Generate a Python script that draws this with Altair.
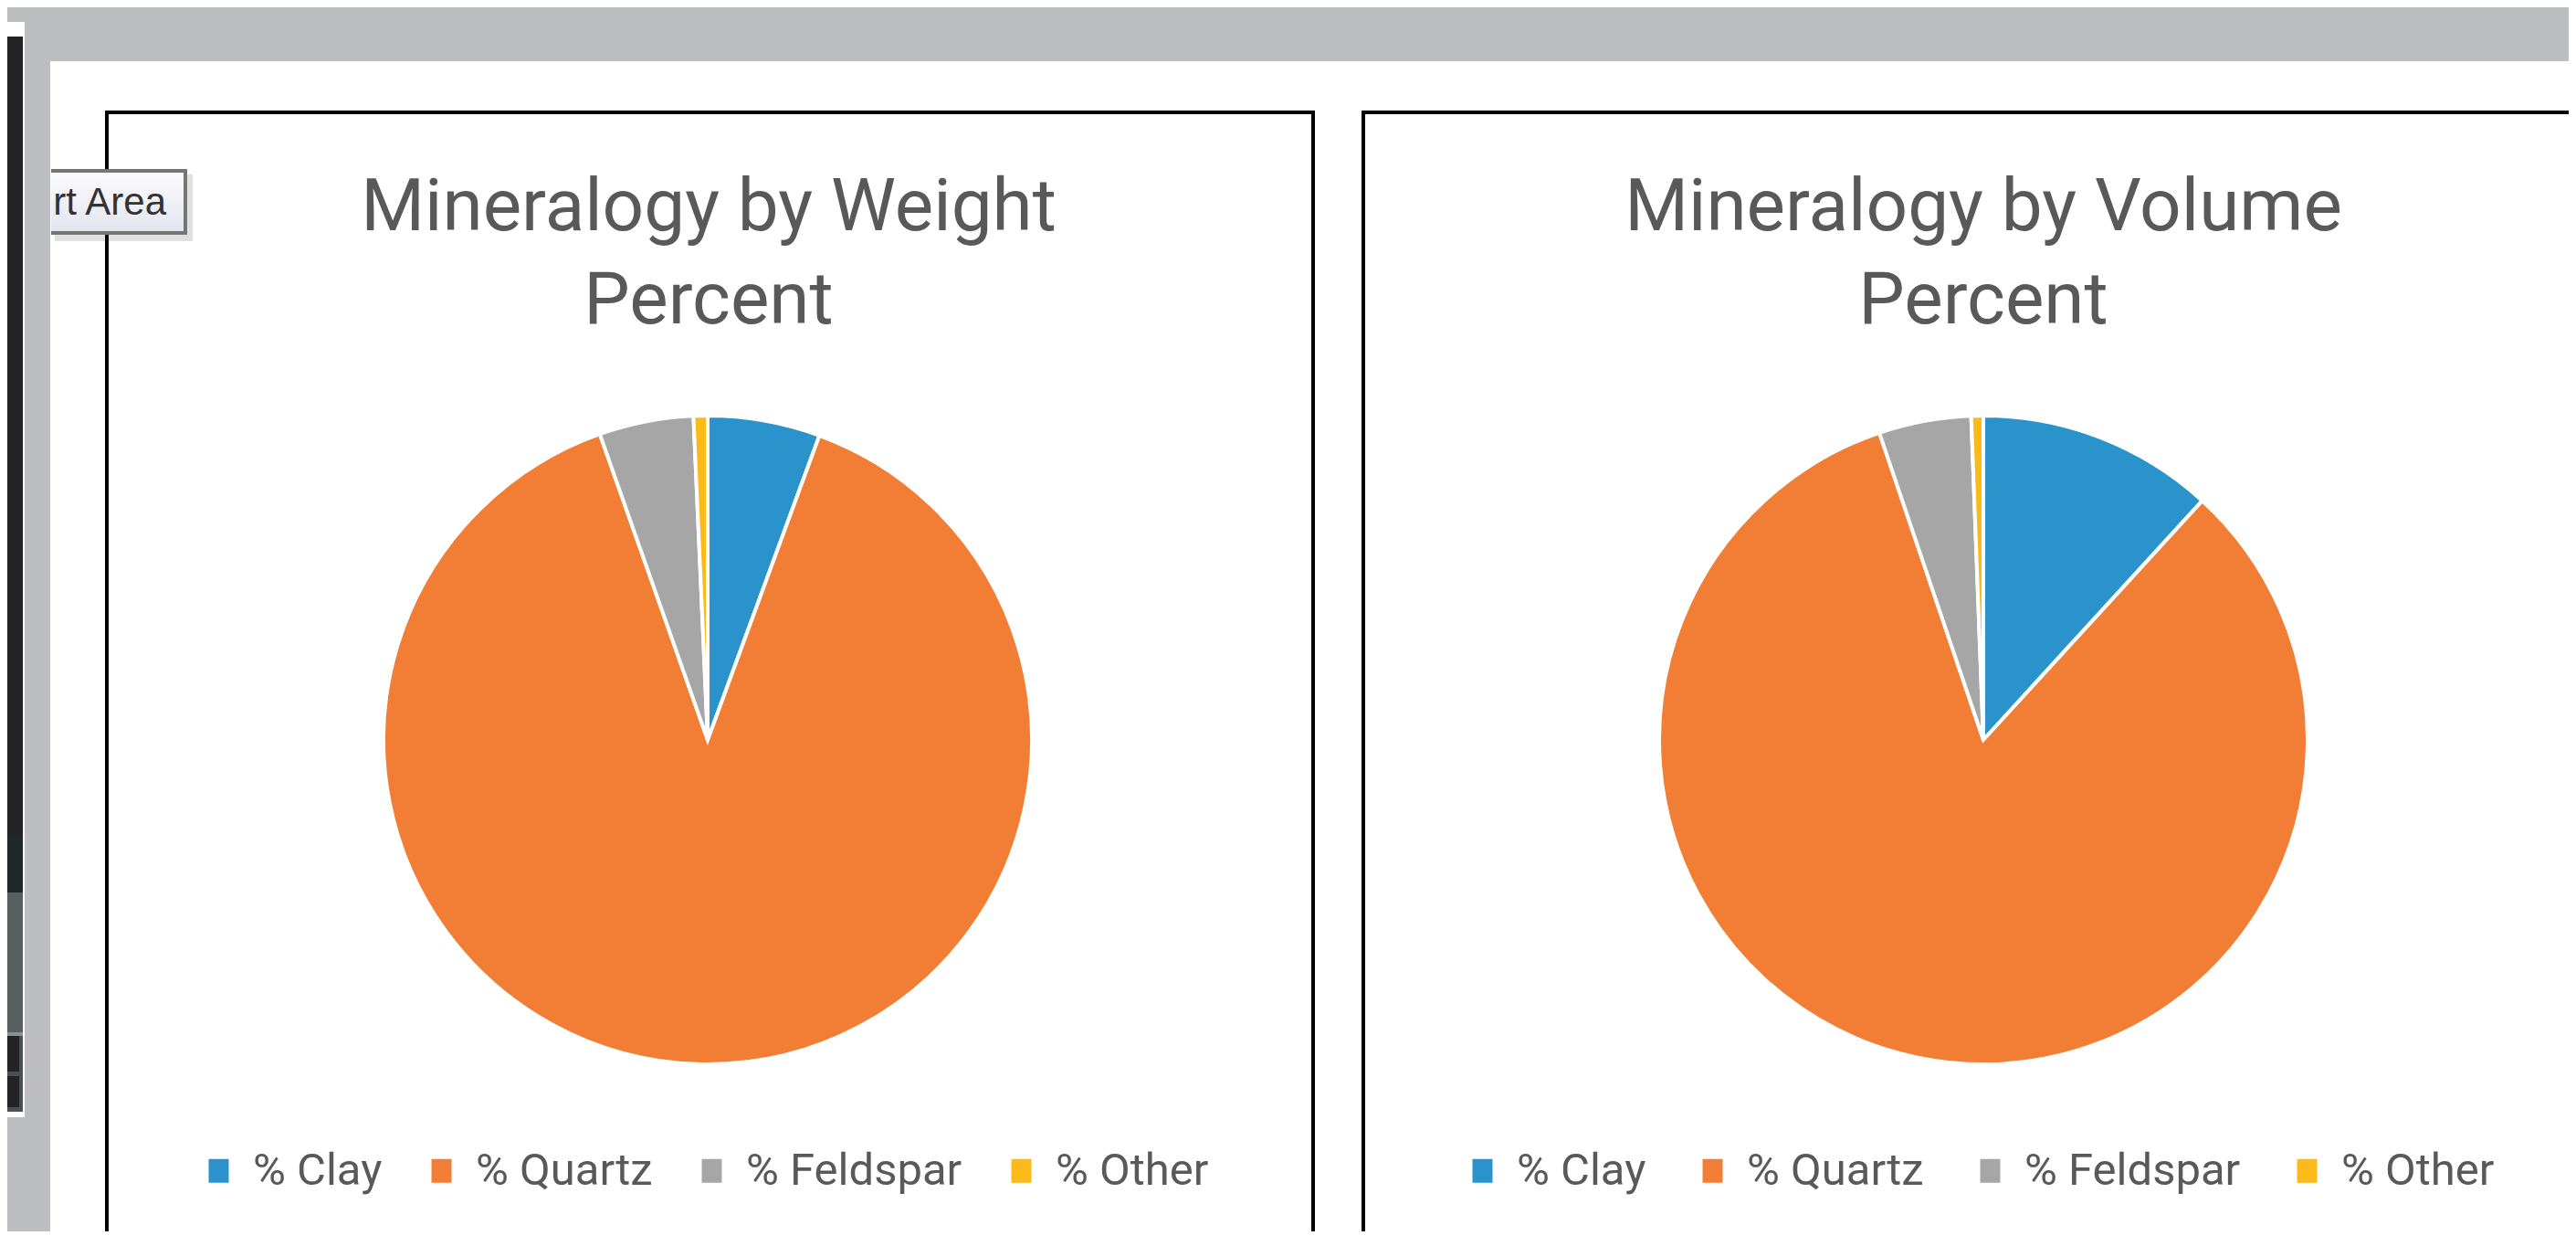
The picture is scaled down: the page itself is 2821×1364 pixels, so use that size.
import altair as alt
import pandas as pd

# ---------------- data ----------------
MINERALS = ["% Clay", "% Quartz", "% Feldspar", "% Other"]
WEIGHT_PCT = [5.6, 89.0, 4.7, 0.7]
VOLUME_PCT = [11.8, 83.0, 4.6, 0.6]
COLORS = ["#2A93CC", "#F27E36", "#A6A6A6", "#FCBA18"]
TITLE_WEIGHT = ["Mineralogy by Weight", "Percent"]
TITLE_VOLUME = ["Mineralogy by Volume", "Percent"]
TOOLTIP_TEXT = "rt Area"

# ---------------- layout ----------------
W, H = 2805, 1340
OFF = 8
one = pd.DataFrame({"k": [0]})


def px(v):
    return v - OFF


def box(x1, y1, x2, y2, **kw):
    return alt.Chart(one).mark_rect(**kw).encode(
        x=alt.value(px(x1)), x2=alt.value(px(x2)),
        y=alt.value(px(y1)), y2=alt.value(px(y2)),
    )


def hline(x1, x2, y, **kw):
    return alt.Chart(one).mark_rule(**kw).encode(
        x=alt.value(px(x1)), x2=alt.value(px(x2)), y=alt.value(px(y))
    )


def vline(x, y1, y2, **kw):
    return alt.Chart(one).mark_rule(**kw).encode(
        x=alt.value(px(x)), y=alt.value(px(y1)), y2=alt.value(px(y2))
    )


SYMBOL = "M-0.846,-1H0.846V1H-0.846Z"


def pie(values, cx, cy, lx, ly, colpad):
    df = pd.DataFrame({"mineral": MINERALS, "pct": values, "idx": list(range(len(MINERALS)))})
    return alt.Chart(df).mark_arc(radius=355, stroke="white", strokeWidth=4).encode(
        theta=alt.Theta("pct:Q", stack=True),
        color=alt.Color(
            "mineral:N",
            sort=MINERALS,
            scale=alt.Scale(domain=MINERALS, range=COLORS),
            legend=alt.Legend(
                title=None, orient="none", legendX=px(lx), legendY=px(ly),
                direction="horizontal", columns=4, padding=0,
                symbolType=SYMBOL, symbolSize=676, symbolStrokeWidth=0,
                labelFont="Roboto", labelFontSize=49, labelColor="#595959",
                labelOffset=13, columnPadding=colpad, labelLimit=500,
            ),
        ),
        order=alt.Order("idx:Q"),
        x=alt.value(px(cx)), y=alt.value(px(cy)),
    )


def title(lines, cx, y):
    return alt.Chart(one).mark_text(
        text=lines, font="Roboto", fontSize=80, color="#595959",
        align="center", baseline="alphabetic", lineHeight=102,
    ).encode(x=alt.value(px(cx)), y=alt.value(px(y)))


FRAME = dict(color="#000000", strokeWidth=4)

layers = [
    # window / sheet background
    box(55, 67, 2900, 1400, fill="#FFFFFF"),
    # left picture strip
    box(0, 24, 27, 1223, fill="#FFFFFF"),
    box(0, 40, 25, 1217, fill="#232224"),
    box(0, 913, 25, 977, fill="#1E2828"),
    box(0, 977, 25, 1130, fill="#55605F"),
    box(0, 1130, 25, 1134, fill="#8A9294"),
    box(0, 1173, 25, 1178, fill="#4B5153"),
    box(0, 1212, 25, 1217, fill="#4B5153"),
    box(21, 1134, 25, 1212, fill="#4B5153"),
    # chart frames
    hline(115, 1440, 123, **FRAME),
    vline(117, 121, 1420, **FRAME),
    vline(1438, 121, 1420, **FRAME),
    hline(1491, 2900, 123, **FRAME),
    vline(1493, 121, 1420, **FRAME),
    # pies
    pie(WEIGHT_PCT, 775, 810, 215, 1257, 40),
    pie(VOLUME_PCT, 2172, 810, 1599, 1257, 48),
    # titles
    title(TITLE_WEIGHT, 776, 252),
    title(TITLE_VOLUME, 2172, 252),
    # tooltip "Chart Area"
    box(60, 191, 211, 264, fill="#000000", opacity=0.12),
    box(56, 185, 205, 257, fill=alt.Gradient(
        gradient="linear",
        stops=[alt.GradientStop(color="#FDFDFE", offset=0),
               alt.GradientStop(color="#E2E3EE", offset=1)],
        x1=0, x2=0, y1=0, y2=1)),
    hline(56, 205, 187, color="#767676", strokeWidth=4),
    hline(56, 205, 255, color="#767676", strokeWidth=4),
    vline(203, 185, 257, color="#767676", strokeWidth=4),
    alt.Chart(one).mark_text(
        text=TOOLTIP_TEXT, font="Liberation Sans", fontSize=42, color="#333333",
        align="right", baseline="alphabetic",
    ).encode(x=alt.value(px(182)), y=alt.value(px(235))),
]

chart = alt.layer(*layers).resolve_scale(
    theta="independent", color="independent"
).properties(
    width=W, height=H, background="#BDBEC2", padding=0, autosize="none"
).configure_view(strokeWidth=0)

chart.save("out.html", embed_options={"renderer": "svg", "actions": False})
